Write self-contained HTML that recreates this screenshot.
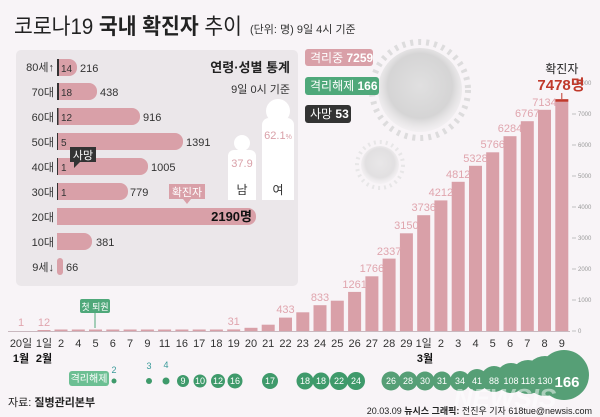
<!DOCTYPE html>
<html><head><meta charset="utf-8"><style>
html,body{margin:0;padding:0;background:#f8f4f7;}
svg{display:block;font-family:"Liberation Sans","Noto Sans CJK KR",sans-serif;}
</style></head><body>
<svg width="600" height="417" viewBox="0 0 600 417" xmlns="http://www.w3.org/2000/svg">
<rect width="600" height="417" fill="#f8f4f7"/>
<defs>
<radialGradient id="vg" cx="50%" cy="45%" r="55%"><stop offset="0" stop-color="#dcdcdc"/><stop offset="0.7" stop-color="#cfcfcf"/><stop offset="1" stop-color="#e2e2e2" stop-opacity="0.3"/></radialGradient>
</defs>
<!-- virus -->
<circle cx="420" cy="90" r="42" fill="url(#vg)" opacity="0.85"/>
<circle cx="420" cy="90" r="48" fill="none" stroke="#d6d6d6" stroke-width="6" stroke-dasharray="3 5" opacity="0.8"/>
<circle cx="380" cy="165" r="19" fill="url(#vg)" opacity="0.55"/>
<circle cx="380" cy="165" r="23" fill="none" stroke="#e0e0e0" stroke-width="4" stroke-dasharray="2 4" opacity="0.7"/>

<!-- title -->
<text x="14" y="34" font-size="22" fill="#222" textLength="228" lengthAdjust="spacingAndGlyphs">코로나19 <tspan font-weight="bold">국내 확진자</tspan> 추이</text>
<text x="250" y="33" font-size="11" fill="#333">(단위: 명) 9일 4시 기준</text>

<!-- left panel -->
<rect x="16" y="50" width="282" height="236" rx="5" fill="#ebe7ea"/>
<g font-size="11" fill="#333">
<text x="54" y="71" text-anchor="end">80세↑</text>
<text x="54" y="96" text-anchor="end">70대</text>
<text x="54" y="121" text-anchor="end">60대</text>
<text x="54" y="146" text-anchor="end">50대</text>
<text x="54" y="171" text-anchor="end">40대</text>
<text x="54" y="196" text-anchor="end">30대</text>
<text x="54" y="221" text-anchor="end">20대</text>
<text x="54" y="246" text-anchor="end">10대</text>
<text x="54" y="271" text-anchor="end">9세↓</text>
</g>
<g fill="#d9a0a8">
<rect x="57" y="59" width="20" height="17" rx="8"/>
<rect x="57" y="83" width="40" height="17" rx="8"/>
<rect x="57" y="108" width="83" height="17" rx="8"/>
<rect x="57" y="133" width="126" height="17" rx="8"/>
<rect x="57" y="158" width="91" height="17" rx="8"/>
<rect x="57" y="183" width="71" height="17" rx="8"/>
<rect x="57" y="208" width="199" height="17" rx="8"/>
<rect x="57" y="233" width="35" height="17" rx="8"/>
<rect x="57" y="258" width="6" height="17" rx="3"/>
<rect x="57" y="59" width="8" height="17"/><rect x="57" y="83" width="8" height="17"/><rect x="57" y="108" width="8" height="17"/><rect x="57" y="133" width="8" height="17"/><rect x="57" y="158" width="8" height="17"/><rect x="57" y="183" width="8" height="17"/><rect x="57" y="208" width="8" height="17"/><rect x="57" y="233" width="8" height="17"/>
</g>
<g fill="#333"><rect x="57" y="59" width="2" height="17"/><rect x="57" y="83" width="2" height="17"/><rect x="57" y="108" width="1.5" height="17"/><rect x="57" y="133" width="1" height="17"/><rect x="57" y="158" width="1" height="17"/><rect x="57" y="183" width="1" height="17"/></g>
<g font-size="10" fill="#333">
<text x="61" y="72">14</text><text x="61" y="96">18</text><text x="61" y="121">12</text><text x="61" y="146">5</text><text x="61" y="171">1</text><text x="61" y="196">1</text>
</g>
<g font-size="11" fill="#333">
<text x="80" y="72">216</text><text x="100" y="96">438</text><text x="143" y="121">916</text><text x="186" y="146">1391</text><text x="151" y="171">1005</text><text x="130" y="196">779</text><text x="96" y="246">381</text><text x="66" y="271">66</text>
</g>
<text x="252" y="221" font-size="13" font-weight="bold" fill="#111" text-anchor="end">2190명</text>
<rect x="70" y="147" width="26" height="15" fill="#333"/>
<path d="M74 162 L74 168 L80 162 Z" fill="#333"/>
<text x="83" y="159" font-size="11" fill="#fff" text-anchor="middle">사망</text>
<rect x="169" y="184" width="36" height="15" fill="#d9a0a8"/>
<path d="M183 199 L187 204 L191 199 Z" fill="#d9a0a8"/>
<text x="187" y="196" font-size="11" fill="#fff" text-anchor="middle">확진자</text>

<text x="290" y="72" font-size="13" font-weight="bold" fill="#222" text-anchor="end">연령·성별 통계</text>
<text x="290" y="93" font-size="11" fill="#333" text-anchor="end">9일 0시 기준</text>
<circle cx="242" cy="143" r="8" fill="#fff"/>
<rect x="228" y="150" width="28" height="50" rx="6" fill="#fff"/>
<rect x="228" y="175" width="28" height="25" fill="#fff"/>
<circle cx="278" cy="111" r="12" fill="#fff"/>
<rect x="262" y="118" width="32" height="82" rx="7" fill="#fff"/>
<rect x="262" y="160" width="32" height="40" fill="#fff"/>
<text x="242" y="167" font-size="11" fill="#d9a0a8" text-anchor="middle">37.9</text>
<text x="278" y="139" font-size="11" fill="#d9a0a8" text-anchor="middle">62.1<tspan font-size="7">%</tspan></text>
<text x="242" y="194" font-size="12" fill="#333" text-anchor="middle">남</text>
<text x="278" y="194" font-size="12" fill="#333" text-anchor="middle">여</text>

<rect x="305" y="49" width="68" height="17" rx="3" fill="#d9a0a8"/>
<text x="310" y="62" font-size="12" fill="#fff">격리중 <tspan font-weight="bold">7259</tspan></text>
<rect x="305" y="77" width="74" height="18" rx="3" fill="#4fa87a"/>
<text x="310" y="90" font-size="12" fill="#fff">격리해제 <tspan font-weight="bold">166</tspan></text>
<rect x="305" y="105" width="46" height="18" rx="3" fill="#333"/>
<text x="310" y="118" font-size="12" fill="#fff">사망 <tspan font-weight="bold">53</tspan></text>

<g stroke="#aaa" stroke-width="0.7">
<line x1="572" y1="83" x2="576" y2="83"/><line x1="572" y1="114" x2="576" y2="114"/><line x1="572" y1="145" x2="576" y2="145"/><line x1="572" y1="176" x2="576" y2="176"/><line x1="572" y1="207" x2="576" y2="207"/><line x1="572" y1="238" x2="576" y2="238"/><line x1="572" y1="269" x2="576" y2="269"/><line x1="572" y1="300" x2="576" y2="300"/><line x1="572" y1="331" x2="576" y2="331"/>
</g>
<g font-size="6" fill="#999">
<text x="578" y="85">8000</text><text x="578" y="116">7000</text><text x="578" y="147">6000</text><text x="578" y="178">5000</text><text x="578" y="209">4000</text><text x="578" y="240">3000</text><text x="578" y="271">2000</text><text x="578" y="302">1000</text><text x="578" y="333">0</text>
</g>
<line x1="8" y1="331.5" x2="570" y2="331.5" stroke="#c9b8bf" stroke-width="1"/>

<g fill="#d9a0a8">
<rect x="37.5" y="330" width="13" height="1"/>
<rect x="54.5" y="329.5" width="13" height="1.5"/><rect x="71.8" y="329.5" width="13" height="1.5"/><rect x="89" y="329.5" width="13" height="1.5"/><rect x="106.3" y="329.5" width="13" height="1.5"/><rect x="123.6" y="329.5" width="13" height="1.5"/><rect x="140.9" y="329.5" width="13" height="1.5"/><rect x="158.1" y="329.5" width="13" height="1.5"/><rect x="175.4" y="329.5" width="13" height="1.5"/><rect x="192.7" y="329.5" width="13" height="1.5"/><rect x="209.9" y="329.5" width="13" height="1.5"/>
<rect x="227.2" y="329.4" width="13" height="1.6"/>
<rect x="244.5" y="327.8" width="13" height="3.2"/>
<rect x="261.7" y="324.7" width="13" height="6.3"/>
<rect x="279" y="317.6" width="13" height="13.4"/>
<rect x="296.3" y="312.3" width="13" height="18.7"/>
<rect x="313.5" y="305.2" width="13" height="25.8"/>
<rect x="330.8" y="300.7" width="13" height="30.3"/>
<rect x="348.1" y="291.9" width="13" height="39.1"/>
<rect x="365.4" y="276.3" width="13" height="54.7"/>
<rect x="382.6" y="258.6" width="13" height="72.4"/>
<rect x="399.9" y="233.3" width="13" height="97.7"/>
<rect x="417.2" y="215.2" width="13" height="115.8"/>
<rect x="434.4" y="200.4" width="13" height="130.6"/>
<rect x="451.7" y="181.8" width="13" height="149.2"/>
<rect x="469" y="165.8" width="13" height="165.2"/>
<rect x="486.2" y="152.3" width="13" height="178.7"/>
<rect x="503.5" y="136.2" width="13" height="194.8"/>
<rect x="520.8" y="121.2" width="13" height="209.8"/>
<rect x="538" y="109.8" width="13" height="221.2"/>
<rect x="555.3" y="99.2" width="13" height="231.8"/>
</g>
<rect x="555.3" y="99.2" width="13" height="2.5" fill="#c0392b"/>
<line x1="561.8" y1="93" x2="561.8" y2="99" stroke="#c0392b" stroke-width="1"/>
<text x="561.8" y="73" font-size="12" fill="#222" text-anchor="middle">확진자</text>
<text x="561" y="90" font-size="15" font-weight="bold" fill="#c0392b" text-anchor="middle">7478명</text>

<g font-size="11" fill="#e0a5ae" text-anchor="middle">
<text x="21" y="326">1</text><text x="44" y="326">12</text><text x="233.7" y="325">31</text>
<text x="285.5" y="313">433</text><text x="320" y="301">833</text><text x="354.6" y="288">1261</text>
<text x="371.9" y="272">1766</text><text x="389.1" y="255">2337</text><text x="406.4" y="229">3150</text>
<text x="423.7" y="211">3736</text><text x="440.9" y="196">4212</text><text x="458.2" y="178">4812</text>
<text x="475.5" y="162">5328</text><text x="492.7" y="148">5766</text><text x="510" y="132">6284</text>
<text x="527.3" y="117">6767</text><text x="544.5" y="106">7134</text>
</g>

<rect x="80" y="299" width="30" height="14" rx="2" fill="#4fa87a"/>
<line x1="95" y1="313" x2="95" y2="328" stroke="#4fa87a" stroke-width="1"/>
<text x="95" y="310" font-size="9" fill="#fff" text-anchor="middle">첫 퇴원</text>

<g font-size="11" fill="#333" text-anchor="middle">
<text x="21" y="347">20일</text><text x="44" y="347">1일</text>
<text x="61" y="347">2</text><text x="78.3" y="347">4</text><text x="95.5" y="347">5</text><text x="112.8" y="347">6</text><text x="130.1" y="347">7</text><text x="147.4" y="347">9</text><text x="164.6" y="347">11</text><text x="181.9" y="347">16</text><text x="199.2" y="347">17</text><text x="216.4" y="347">18</text><text x="233.7" y="347">19</text><text x="251" y="347">20</text><text x="268.2" y="347">21</text><text x="285.5" y="347">22</text><text x="302.8" y="347">23</text><text x="320" y="347">24</text><text x="337.3" y="347">25</text><text x="354.6" y="347">26</text><text x="371.9" y="347">27</text><text x="389.1" y="347">28</text><text x="406.4" y="347">29</text><text x="423.7" y="347">1일</text><text x="440.9" y="347">2</text><text x="458.2" y="347">3</text><text x="475.5" y="347">4</text><text x="492.7" y="347">5</text><text x="510" y="347">6</text><text x="527.3" y="347">7</text><text x="544.5" y="347">8</text><text x="561.8" y="347">9</text>
</g>
<g font-size="11" font-weight="bold" fill="#111" text-anchor="middle">
<text x="21" y="362">1월</text><text x="44" y="362">2월</text><text x="425" y="362">3월</text>
</g>

<rect x="69" y="371" width="40" height="15" rx="3" fill="#6cbf93"/>
<text x="89" y="382" font-size="10" fill="#fff" text-anchor="middle">격리해제</text>
<g fill="#3f9a6b">
<circle cx="114" cy="381" r="2.5"/><circle cx="149" cy="381" r="3"/><circle cx="166" cy="381" r="3.5"/>
<circle cx="183" cy="381" r="6"/><circle cx="200" cy="381" r="6.5"/><circle cx="218" cy="381" r="7"/><circle cx="235" cy="381" r="7.5"/>
<circle cx="270" cy="381" r="8"/><circle cx="305" cy="381" r="8.5"/><circle cx="321" cy="381" r="8.5"/><circle cx="339" cy="381" r="9"/><circle cx="356" cy="381" r="9"/>
</g>
<g fill="#2e8b57" opacity="0.8">
<circle cx="391" cy="381" r="9.5"/><circle cx="408" cy="381" r="9.5"/><circle cx="425" cy="381" r="9.5"/><circle cx="442" cy="381" r="9.5"/><circle cx="460" cy="381" r="10"/><circle cx="477" cy="380" r="11"/><circle cx="494" cy="379" r="13"/><circle cx="511" cy="378" r="15"/><circle cx="528" cy="377" r="17"/><circle cx="545" cy="376" r="20"/><circle cx="564" cy="375" r="25"/>
</g>
<g font-size="9" fill="#fff" text-anchor="middle">
<text x="183" y="384">9</text><text x="200" y="384">10</text><text x="218" y="384">12</text><text x="235" y="384">16</text><text x="270" y="384">17</text><text x="305" y="384">18</text><text x="321" y="384">18</text><text x="339" y="384">22</text><text x="356" y="384">24</text><text x="391" y="384">26</text><text x="408" y="384">28</text><text x="425" y="384">30</text><text x="442" y="384">31</text><text x="460" y="384">34</text><text x="477" y="384">41</text><text x="494" y="384">88</text><text x="511" y="384">108</text><text x="528" y="384">118</text><text x="545" y="384">130</text>
</g>
<text x="567" y="387" font-size="15" font-weight="bold" fill="#fff" text-anchor="middle">166</text>
<g font-size="9" fill="#3a9a9a" text-anchor="middle"><text x="114" y="373">2</text><text x="149" y="369">3</text><text x="166" y="368">4</text></g>
<text x="505" y="407" font-size="26" font-weight="bold" font-style="italic" fill="#ffffff" opacity="0.5" text-anchor="middle">NEWSIS</text>

<text x="8" y="406" font-size="11" fill="#222">자료: <tspan font-weight="bold">질병관리본부</tspan></text>
<text x="592" y="414" font-size="9" fill="#222" text-anchor="end">20.03.09 <tspan font-weight="bold">뉴시스 그래픽:</tspan> 전진우 기자 618tue@newsis.com</text>
</svg>
</body></html>
